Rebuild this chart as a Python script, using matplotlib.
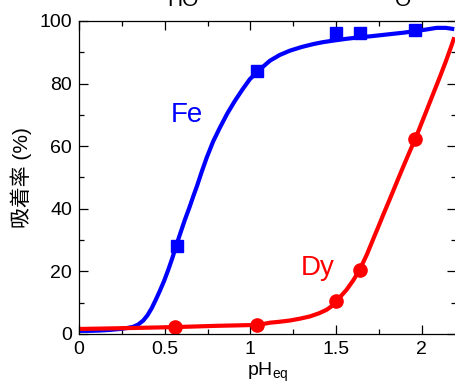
import numpy as np
import matplotlib
matplotlib.use('Agg')
import matplotlib.pyplot as plt
from matplotlib.ticker import MultipleLocator

plt.rcParams['font.family'] = ['Liberation Sans', 'Noto Sans CJK JP', 'DejaVu Sans']

# Pontos medidos
ph_fe = [0.57, 1.04, 1.50, 1.64, 1.96]
ads_fe = [28.0, 84.0, 96.0, 96.0, 97.0]
ph_dy = [0.56, 1.04, 1.50, 1.64, 1.96]
ads_dy = [2.2, 2.9, 10.4, 20.5, 62.4]

# Curvas ajustadas
curva_fe_x = [0.0, 0.06, 0.12, 0.18, 0.24, 0.28, 0.317, 0.345, 0.375, 0.40, 0.424,
              0.447, 0.472, 0.497, 0.521, 0.545, 0.566, 0.592, 0.618, 0.643, 0.667,
              0.69, 0.716, 0.745, 0.782, 0.822, 0.865, 0.91, 0.955, 0.997, 1.045,
              1.114, 1.17, 1.23, 1.30, 1.366, 1.42, 1.48, 1.56, 1.64, 1.70, 1.80,
              1.90, 1.965, 2.03, 2.086, 2.14, 2.19]
curva_fe_y = [1.0, 1.0, 1.1, 1.3, 1.6, 1.9, 2.3, 3.0, 4.3, 6.0, 8.2,
              10.8, 13.8, 17.0, 20.5, 24.3, 28.0, 32.3, 36.5, 40.2, 44.0,
              47.5, 51.8, 56.3, 61.4, 65.9, 70.4, 74.5, 78.2, 81.4, 84.0,
              87.3, 89.1, 90.5, 91.7, 92.6, 93.2, 93.7, 94.3, 94.8, 95.1, 95.7,
              96.3, 96.8, 97.3, 97.8, 97.8, 97.4]
curva_dy_x = [0.0, 0.30, 0.56, 0.80, 1.046, 1.114, 1.17, 1.23, 1.29, 1.347, 1.40,
              1.444, 1.475, 1.499, 1.53, 1.561, 1.60, 1.638, 1.68, 1.716, 1.745,
              1.774, 1.813, 1.85, 1.891, 1.93, 1.963, 1.995, 2.027, 2.065, 2.105,
              2.14, 2.173, 2.19]
curva_dy_y = [1.6, 1.9, 2.2, 2.6, 2.9, 3.6, 3.9, 4.3, 4.9, 5.6, 6.6,
              7.7, 8.9, 10.4, 12.2, 14.1, 17.1, 20.5, 25.4, 30.2, 34.0,
              37.9, 43.0, 47.9, 53.3, 58.3, 62.4, 66.8, 71.2, 76.5, 82.0,
              87.0, 92.0, 94.8]

fig = plt.figure(figsize=(4.55, 3.87), dpi=100)
ax = fig.add_axes([0.1736, 0.137, 0.8286, 0.8088])

ax.plot(curva_fe_x, curva_fe_y, color='#0000FF', lw=3.0, solid_capstyle='butt',
        solid_joinstyle='round')
ax.plot(curva_dy_x, curva_dy_y, color='#FF0000', lw=3.0, solid_capstyle='butt',
        solid_joinstyle='round')
ax.plot(ph_fe, ads_fe, 's', color='#0000FF', ms=9)
ax.plot(ph_dy, ads_dy, 'o', color='#FF0000', ms=9.5)

ax.text(0.63, 70, 'Fe', color='#0000FF', fontsize=20, ha='center', va='center')
ax.text(1.39, 21, 'Dy', color='#FF0000', fontsize=20, ha='center', va='center')

ax.set_xlim(0, 2.2)
ax.set_ylim(0, 100)
ax.xaxis.set_major_locator(MultipleLocator(0.5))
ax.xaxis.set_minor_locator(MultipleLocator(0.25))
ax.yaxis.set_major_locator(MultipleLocator(20))
ax.yaxis.set_minor_locator(MultipleLocator(10))
ax.set_xticks([0, 0.5, 1, 1.5, 2])
ax.set_xticklabels(['0', '0.5', '1', '1.5', '2'])
ax.tick_params(which='both', direction='in', top=True, right=True, labelsize=14, width=0.9)
ax.tick_params(which='major', length=6.5, pad=5)
ax.tick_params(which='minor', length=3.3)
for s in ax.spines.values():
    s.set_linewidth(0.9)

ax.set_xlabel('pH$_{\\mathregular{eq}}$', fontsize=14, labelpad=2)
ax.set_ylabel('吸着率 (%)', fontsize=15, labelpad=5)

# pedaços da estrutura química cortados no topo
fig.text(183 / 455, 1 - 6 / 387, 'HO', fontsize=15, ha='center', va='baseline')
fig.text(403 / 455, 1 - 6 / 387, 'O', fontsize=15, ha='center', va='baseline')

fig.savefig('out.png', dpi=100)
